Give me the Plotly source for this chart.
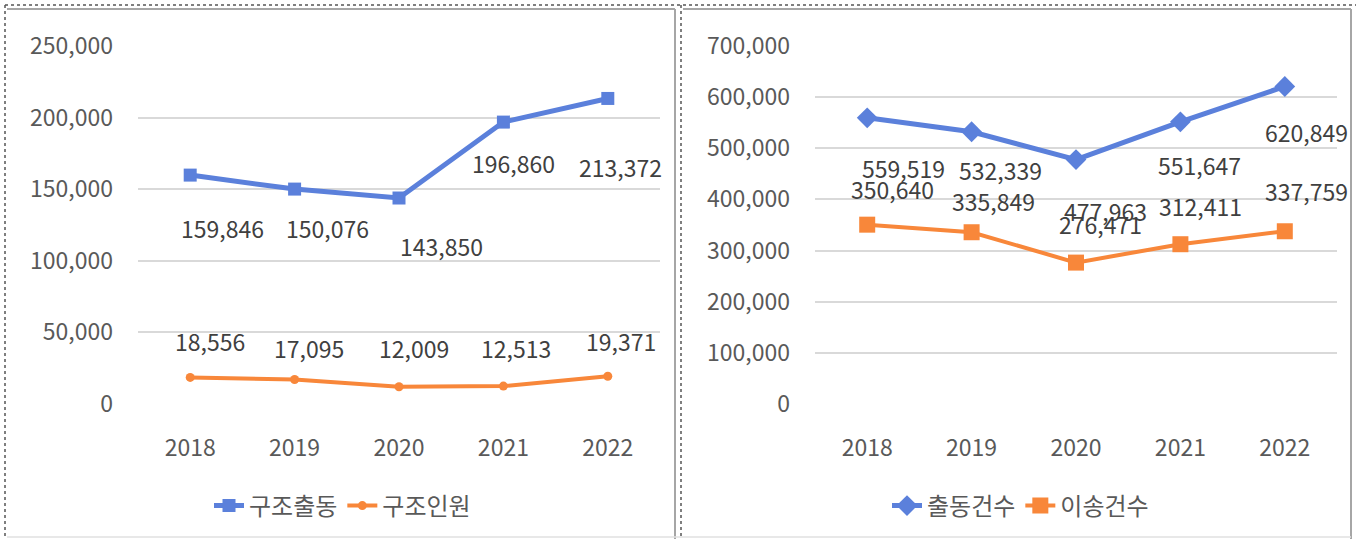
import plotly.graph_objects as go
from plotly.subplots import make_subplots

years = ["2018", "2019", "2020", "2021", "2022"]
rescue_dispatch = [159846, 150076, 143850, 196860, 213372]
rescued_people = [18556, 17095, 12009, 12513, 19371]
ems_dispatch = [559519, 532339, 477963, 551647, 620849]
ems_transport = [350640, 335849, 276471, 312411, 337759]

left_y_ticks = [0, 50000, 100000, 150000, 200000, 250000]
right_y_ticks = [0, 100000, 200000, 300000, 400000, 500000, 600000, 700000]

# label offsets in pixels (dx, dy screen-down positive)
off_rd = [(32, 53), (33, 39), (42, 48), (10, 41), (13, 69)]
off_rp = [(20, -36), (14, -32), (15, -39), (13, -38), (13, -35)]
off_ed = [(36, 50), (29, 38), (29, 51), (19, 43), (22, 46)]
off_et = [(25, -36), (22, -31), (24, -39), (20, -38), (22, -40)]

W, H = 1356, 539
BLUE = "#5B80DB"
ORANGE = "#F8873A"
FONT = "Noto Sans CJK KR"
TXT = "#404040"
TICK = "#595959"
FS = 23

fig = make_subplots(rows=1, cols=2)

fig.add_trace(go.Scatter(x=years, y=rescue_dispatch, name="구조출동", mode="lines+markers",
                         line=dict(color=BLUE, width=5), marker=dict(symbol="square", size=13, color=BLUE),
                         legend="legend"), row=1, col=1)
fig.add_trace(go.Scatter(x=years, y=rescued_people, name="구조인원", mode="lines+markers",
                         line=dict(color=ORANGE, width=4), marker=dict(symbol="circle", size=9, color=ORANGE),
                         legend="legend"), row=1, col=1)
fig.add_trace(go.Scatter(x=years, y=ems_dispatch, name="출동건수", mode="lines+markers",
                         line=dict(color=BLUE, width=5), marker=dict(symbol="diamond", size=16, color=BLUE),
                         legend="legend2"), row=1, col=2)
fig.add_trace(go.Scatter(x=years, y=ems_transport, name="이송건수", mode="lines+markers",
                         line=dict(color=ORANGE, width=4), marker=dict(symbol="square", size=16, color=ORANGE),
                         legend="legend2"), row=1, col=2)

annotations = []
def add_labels(vals, offs, xref, yref):
    for i, (v, (dx, dy)) in enumerate(zip(vals, offs)):
        annotations.append(go.layout.Annotation(
            x=i, y=v, xref=xref, yref=yref, text=f"{v:,}", showarrow=False,
            xanchor="center", yanchor="middle",
            xshift=dx, yshift=-dy, font=dict(family=FONT, size=FS, color=TXT)))

add_labels(rescue_dispatch, off_rd, "x", "y")
add_labels(rescued_people, off_rp, "x", "y")
add_labels(ems_dispatch, off_ed, "x2", "y2")
add_labels(ems_transport, off_et, "x2", "y2")

def px(x):
    return x / W
def py(y):
    return 1 - y / H

shapes = []
dot = dict(color="#555555", width=1.5, dash="dot")
solid = dict(color="#A6A6A6", width=2)
def line(x0, y0, x1, y1, ln):
    shapes.append(dict(type="line", xref="paper", yref="paper", x0=px(x0), y0=py(y0), x1=px(x1), y1=py(y1), line=ln))

line(5, 5, W, 5, dot)
line(5, 5, 5, H, dot)
line(681, 5, 681, H, dot)
line(7, 9, 675, 9, solid)
line(683, 9, 1351, 9, solid)
line(675, 9, 675, H, solid)
line(1351, 9, 1351, H, solid)
line(7, 537, 1351, 537, dict(color="#E0E0E0", width=1.5))

ydom = [py(404), py(46)]
axis_common = dict(type="category", showgrid=False, showline=False, ticks="", range=[-0.5, 4.5],
                   ticklabelstandoff=28, tickfont=dict(size=FS, color=TICK))
fig.update_layout(
    width=W, height=H, autosize=False, margin=dict(l=0, r=0, t=0, b=0, autoexpand=False),
    paper_bgcolor="white", plot_bgcolor="white",
    font=dict(family=FONT, size=FS, color=TICK),
    showlegend=True,
    xaxis=dict(domain=[px(138), px(660)], **axis_common),
    xaxis2=dict(domain=[px(815), px(1337)], **axis_common),
    yaxis=dict(domain=ydom, range=[0, 250000], tickvals=left_y_ticks, tickformat=",",
               gridcolor="#D9D9D9", gridwidth=2, zeroline=False, showline=False, ticks="",
               ticklabelstandoff=24, tickfont=dict(size=FS, color=TICK)),
    yaxis2=dict(domain=ydom, range=[0, 700000], tickvals=right_y_ticks, tickformat=",",
                gridcolor="#D9D9D9", gridwidth=2, zeroline=False, showline=False, ticks="",
                ticklabelstandoff=24, tickfont=dict(size=FS, color=TICK)),
    legend=dict(orientation="h", x=px(209), y=py(506), xanchor="left", yanchor="middle",
                font=dict(family=FONT, size=FS + 1, color=TICK), bgcolor="rgba(0,0,0,0)"),
    legend2=dict(orientation="h", x=px(887), y=py(506), xanchor="left", yanchor="middle",
                 font=dict(family=FONT, size=FS + 1, color=TICK), bgcolor="rgba(0,0,0,0)"),
)
fig.layout.annotations = annotations
fig.layout.shapes = shapes

fig.write_html("out.html", config={"responsive": False, "displayModeBar": False},
               post_script="document.body.style.margin='0';document.body.style.overflow='hidden';")
